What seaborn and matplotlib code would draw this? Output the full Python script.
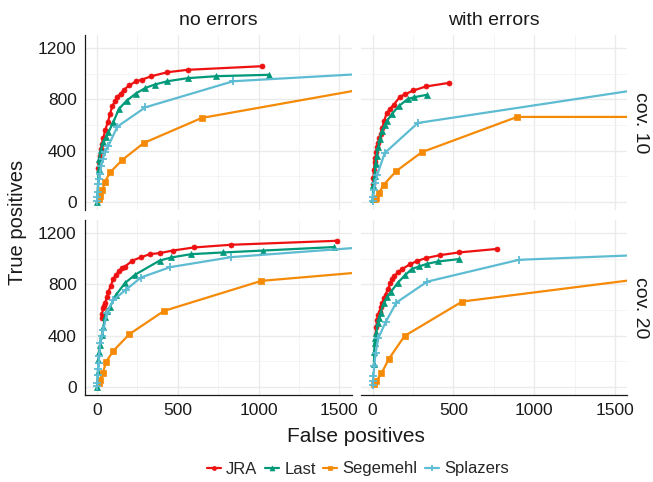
import numpy as np
import pandas as pd
import matplotlib
matplotlib.use("Agg")
import matplotlib.pyplot as plt
import seaborn as sns
from matplotlib.lines import Line2D

tools = ["JRA", "Last", "Segemehl", "Splazers"]
tool_colors = ["#EE1111", "#00997A", "#F58A07", "#5DBCD2"]
tool_markers = ["o", "^", "s", "+"]
error_labels = ["no errors", "with errors"]
cov_labels = ["cov. 10", "cov. 20"]

# no errors, cov. 10
jra_ne10_fp = [8, 12, 17, 23, 30, 38, 50, 66, 80, 94, 110, 125, 145, 168, 200, 240, 279, 336, 435, 562, 1023]
jra_ne10_tp = [265, 310, 360, 413, 455, 495, 560, 621, 686, 746, 785, 817, 845, 876, 910, 939, 954, 980, 1011, 1030, 1058]
last_ne10_fp = [0, 10, 12, 23, 39, 55, 70, 100, 135, 183, 240, 299, 357, 435, 562, 736, 1064]
last_ne10_tp = [0, 260, 335, 408, 465, 505, 543, 621, 725, 790, 845, 889, 915, 941, 965, 980, 991]
seg_ne10_fp = [12, 18, 33, 49, 80, 156, 289, 648, 1900]
seg_ne10_tp = [20, 49, 96, 158, 231, 328, 460, 655, 936]
spl_ne10_fp = [0, 2, 5, 8, 12, 18, 25, 35, 50, 70, 125, 299, 843, 2100]
spl_ne10_tp = [10, 40, 75, 140, 180, 218, 280, 335, 390, 439, 587, 738, 941, 1030]

# with errors, cov. 10
jra_we10_fp = [2, 5, 8, 12, 17, 23, 29, 35, 42, 49, 60, 73, 86, 108, 130, 171, 202, 253, 330, 473]
jra_we10_tp = [140, 190, 250, 309, 345, 388, 425, 460, 495, 530, 580, 634, 692, 725, 757, 822, 840, 869, 900, 928]
last_we10_fp = [0, 5, 12, 18, 25, 35, 45, 59, 75, 90, 120, 161, 218, 259, 335]
last_we10_tp = [20, 130, 205, 296, 360, 427, 490, 556, 600, 634, 686, 746, 803, 817, 835]
seg_we10_fp = [12, 20, 39, 69, 145, 304, 895, 2000]
seg_we10_tp = [20, 35, 70, 135, 240, 388, 663, 663]
spl_we10_fp = [0, 3, 8, 15, 29, 75, 280, 1900]
spl_we10_tp = [10, 40, 96, 150, 213, 382, 616, 924]

# no errors, cov. 20
jra_ne20_fp = [29, 32, 35, 42, 49, 60, 70, 85, 100, 118, 135, 155, 172, 219, 270, 326, 387, 469, 598, 828, 1484]
jra_ne20_tp = [540, 570, 614, 635, 653, 700, 743, 790, 842, 875, 905, 925, 938, 985, 1010, 1035, 1043, 1063, 1087, 1108, 1139]
last_ne20_fp = [0, 5, 8, 12, 18, 29, 39, 49, 60, 80, 117, 172, 234, 387, 459, 582, 777, 1027, 1464]
last_ne20_tp = [0, 120, 210, 270, 328, 406, 470, 548, 590, 626, 718, 809, 874, 985, 1009, 1035, 1048, 1063, 1090]
seg_ne20_fp = [12, 18, 35, 55, 100, 199, 414, 1017, 1900]
seg_ne20_tp = [30, 55, 107, 195, 281, 411, 593, 827, 922]
spl_ne20_fp = [0, 2, 4, 6, 9, 13, 18, 28, 39, 60, 100, 178, 271, 453, 832, 1900]
spl_ne20_tp = [10, 35, 90, 140, 190, 240, 341, 400, 445, 575, 679, 757, 853, 934, 1012, 1112]

# with errors, cov. 20
jra_we20_fp = [18, 22, 29, 35, 43, 50, 59, 70, 80, 95, 110, 122, 135, 160, 182, 230, 277, 330, 416, 532, 773]
jra_we20_tp = [406, 470, 523, 560, 587, 620, 653, 690, 718, 765, 809, 840, 866, 895, 918, 955, 983, 1004, 1027, 1048, 1076]
last_we20_fp = [8, 10, 12, 17, 23, 33, 40, 49, 69, 90, 114, 157, 200, 243, 290, 335, 406, 532]
last_we20_tp = [180, 275, 341, 380, 424, 497, 535, 575, 653, 700, 743, 814, 870, 920, 940, 959, 978, 996]
seg_we20_fp = [8, 23, 55, 100, 198, 555, 1900]
seg_we20_tp = [20, 47, 107, 218, 398, 666, 880]
spl_we20_fp = [0, 2, 5, 10, 18, 35, 80, 147, 338, 906, 1900]
spl_we20_tp = [18, 50, 83, 160, 263, 380, 504, 658, 821, 991, 1040]

series = {
    ("no errors", "cov. 10"): [(jra_ne10_fp, jra_ne10_tp), (last_ne10_fp, last_ne10_tp),
                               (seg_ne10_fp, seg_ne10_tp), (spl_ne10_fp, spl_ne10_tp)],
    ("with errors", "cov. 10"): [(jra_we10_fp, jra_we10_tp), (last_we10_fp, last_we10_tp),
                                 (seg_we10_fp, seg_we10_tp), (spl_we10_fp, spl_we10_tp)],
    ("no errors", "cov. 20"): [(jra_ne20_fp, jra_ne20_tp), (last_ne20_fp, last_ne20_tp),
                               (seg_ne20_fp, seg_ne20_tp), (spl_ne20_fp, spl_ne20_tp)],
    ("with errors", "cov. 20"): [(jra_we20_fp, jra_we20_tp), (last_we20_fp, last_we20_tp),
                                 (seg_we20_fp, seg_we20_tp), (spl_we20_fp, spl_we20_tp)],
}

# long table for plotting
rows = []
for (err, cov), pairs in series.items():
    for tool, (fp, tp) in zip(tools, pairs):
        for x, y in zip(fp, tp):
            rows.append({"errors": err, "cov": cov, "tool": tool, "fp": x, "tp": y})
df = pd.DataFrame(rows)

sns.set_style("white")
plt.rcParams["font.family"] = ["Liberation Sans", "DejaVu Sans"]
text_color = "#1A1A1A"

fig, axes = plt.subplots(2, 2, figsize=(6.53, 4.82), dpi=100, sharex=True, sharey=True)
fig.subplots_adjust(left=85 / 653, right=627 / 653, top=1 - 35 / 482, bottom=1 - 395 / 482,
                    wspace=9 / 266.5, hspace=10 / 175)

marker_sizes = {"o": 3.6, "^": 4.4, "s": 3.8, "+": 6.0}

for i, cov in enumerate(cov_labels):
    for j, err in enumerate(error_labels):
        ax = axes[i, j]
        sub = df[(df["errors"] == err) & (df["cov"] == cov)]
        for tool, color, mk in zip(tools, tool_colors, tool_markers):
            d = sub[sub["tool"] == tool]
            sns.lineplot(data=d, x="fp", y="tp", ax=ax, color=color, marker=mk,
                         markersize=marker_sizes[mk], markeredgecolor=color,
                         markeredgewidth=1.3 if mk == "+" else 0.5,
                         linewidth=1.6, estimator=None, sort=False, legend=False)

        ax.set_xlim(-75, 1575)
        ax.set_ylim(-62, 1301)
        ax.set_xticks([0, 500, 1000, 1500])
        ax.set_xticks([250, 750, 1250], minor=True)
        ax.set_yticks([0, 400, 800, 1200])
        ax.set_yticks([200, 600, 1000], minor=True)
        ax.set_axisbelow(True)
        ax.grid(which="major", color="#EBEBEB", linewidth=1.0)
        ax.grid(which="minor", color="#F2F2F2", linewidth=0.6)
        ax.set_xlabel("")
        ax.set_ylabel("")
        for side in ["top", "right", "left", "bottom"]:
            ax.spines[side].set_visible(False)
        ax.tick_params(which="minor", length=0)
        ax.tick_params(which="major", labelsize=12.5, labelcolor=text_color,
                       color="#333333", length=3.5, width=0.8, pad=2.5)
        if j == 0:
            ax.spines["left"].set_visible(True)
            ax.spines["left"].set_color("#1A1A1A")
            ax.spines["left"].set_linewidth(0.9)
        else:
            ax.tick_params(axis="y", left=False, labelleft=False)
        if i == 1:
            ax.spines["bottom"].set_visible(True)
            ax.spines["bottom"].set_color("#1A1A1A")
            ax.spines["bottom"].set_linewidth(0.9)
        else:
            ax.tick_params(axis="x", bottom=False, labelbottom=False)
        if i == 0:
            ax.set_title(err, fontsize=14, color=text_color, pad=7)
        if j == 1:
            ax.text(1.05, 0.5, cov, transform=ax.transAxes, rotation=270,
                    ha="center", va="center", fontsize=14, color=text_color)

fig.text(356 / 653, 1 - 437 / 482, "False positives", ha="center", va="center",
         fontsize=15, color=text_color)
fig.text(18 / 653, 1 - 222 / 482, "True positives", ha="center", va="center",
         rotation=90, fontsize=14.5, color=text_color)

handles = [Line2D([0], [0], color=c, marker=m, markersize=marker_sizes[m] * 0.8,
                  markeredgecolor=c, markeredgewidth=1.3 if m == "+" else 0.5, linewidth=1.6)
           for c, m in zip(tool_colors, tool_markers)]
fig.legend(handles, tools, loc="center", bbox_to_anchor=(358 / 653, 1 - 469 / 482), ncol=4,
           frameon=False, fontsize=12, handlelength=0.85, handletextpad=0.3,
           columnspacing=0.45)

fig.savefig("out.png", dpi=100)
